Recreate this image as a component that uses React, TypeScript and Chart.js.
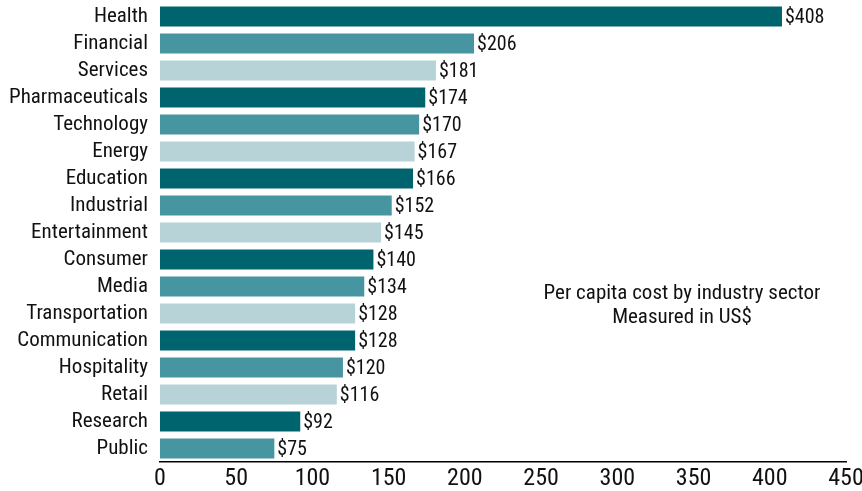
import React, { useEffect, useRef } from "react";
import { Chart, registerables } from "chart.js";

Chart.register(...registerables);

const categories = [
  "Health", "Financial", "Services", "Pharmaceuticals", "Technology", "Energy",
  "Education", "Industrial", "Entertainment", "Consumer", "Media", "Transportation",
  "Communication", "Hospitality", "Retail", "Research", "Public",
];
const values = [408, 206, 181, 174, 170, 167, 166, 152, 145, 140, 134, 128, 128, 120, 116, 92, 75];
const xTicks = [0, 50, 100, 150, 200, 250, 300, 350, 400, 450];
const noteLines = ["Per capita cost by industry sector", "Measured in US$"];

const palette = ["#00646f", "#4795a0", "#b8d3d8"];
const FONT = "'Roboto Condensed', 'DejaVu Sans Condensed', sans-serif";

export default function App() {
  const ref = useRef<HTMLCanvasElement | null>(null);
  useEffect(() => {
    document.body.style.margin = "0";
    const labelPlugin = {
      id: "valueLabels",
      afterDatasetsDraw(chart: any) {
        const ctx = chart.ctx;
        const meta = chart.getDatasetMeta(0);
        ctx.save();
        ctx.font = `20px ${FONT}`;
        ctx.fillStyle = "#111";
        ctx.textAlign = "left";
        ctx.textBaseline = "middle";
        meta.data.forEach((bar: any, i: number) => {
          ctx.fillText("$" + values[i], bar.x + 3, bar.y + 1);
        });
        ctx.font = `21px ${FONT}`;
        ctx.textAlign = "center";
        const cx = chart.scales.x.getPixelForValue(342.4);
        const cy = chart.scales.y.getPixelForValue(10.28);
        noteLines.forEach((t, i) => ctx.fillText(t, cx, cy + i * 24));
        ctx.restore();
      },
    };
    const chart = new Chart(ref.current!, {
      type: "bar",
      data: {
        labels: categories,
        datasets: [
          {
            data: values,
            backgroundColor: values.map((_, i) => palette[i % 3]),
            barPercentage: 0.74,
            categoryPercentage: 1,
          },
        ],
      },
      options: {
        indexAxis: "y",
        animation: false,
        responsive: false,
        maintainAspectRatio: false,
        layout: { padding: { top: 3, right: 16, left: 0, bottom: 0 } },
        plugins: { legend: { display: false }, tooltip: { enabled: false } },
        scales: {
          x: {
            min: 0,
            max: 450,
            afterBuildTicks: (s: any) => {
              s.ticks = xTicks.map((v) => ({ value: v }));
            },
            afterFit: (s: any) => {
              s.height = 29;
              s.paddingLeft = 0;
              s.paddingRight = 0;
            },
            grid: { display: false, drawTicks: false },
            border: { display: true, color: "#000", width: 1.5 },
            ticks: { color: "#111", font: { family: FONT, size: 24 }, padding: 3, maxRotation: 0 },
          },
          y: {
            afterFit: (s: any) => {
              s.width = 160;
              s.paddingTop = 0;
              s.paddingBottom = 0;
            },
            grid: { display: false, drawTicks: false },
            border: { display: false },
            ticks: { color: "#111", font: { family: FONT, size: 21 }, padding: 12, autoSkip: false },
          },
        },
      },
      plugins: [labelPlugin],
    });
    return () => chart.destroy();
  }, []);
  return (
    <div style={{ width: 862, height: 491 }}>
      <canvas ref={ref} width={862} height={491} style={{ display: "block" }} />
    </div>
  );
}
